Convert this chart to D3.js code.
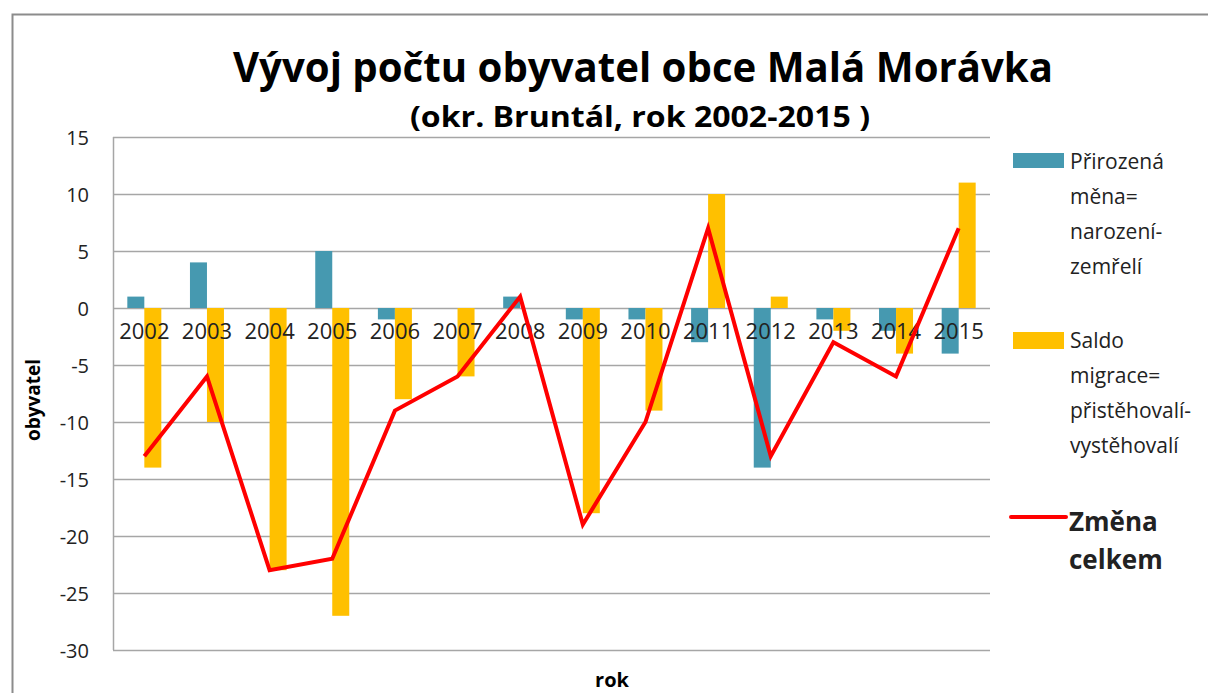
<!DOCTYPE html>
<html><head><meta charset="utf-8">
<script src="https://cdn.jsdelivr.net/npm/d3@7"></script>
<style>body{margin:0;background:#fff}svg{display:block}</style>
</head><body>
<script>
const years = ["2002","2003","2004","2005","2006","2007","2008","2009","2010","2011","2012","2013","2014","2015"];
const prirozena = [1,4,0,5,-1,0,1,-1,-1,-3,-14,-1,-2,-4];
const saldo = [-14,-10,-23,-27,-8,-6,0,-18,-9,10,1,-2,-4,11];
const zmena = [-13,-6,-23,-22,-9,-6,1,-19,-10,7,-13,-3,-6,7];
const yTicks = [15,10,5,0,-5,-10,-15,-20,-25,-30];

const W=1208,H=693;
const svg=d3.select("body").append("svg").attr("width",W).attr("height",H);
const font="'Open Sans', 'DejaVu Sans', sans-serif";
// outer border
svg.append("path").attr("d","M12.5,"+H+" V14.5 H"+W).attr("fill","none").attr("stroke","#8c8c8c").attr("stroke-width",2);

const L=113,R=990,T=137,B=650;
const x=d3.scaleBand().domain(years).range([L,R]);
const y=d3.scaleLinear().domain([-30,15]).range([B,T]);
const bw=17;

// gridlines
svg.append("g").selectAll("line").data(yTicks).join("line")
 .attr("x1",L).attr("x2",R).attr("y1",d=>Math.round(y(d))+0.5).attr("y2",d=>Math.round(y(d))+0.5)
 .attr("stroke","#a6a6a6").attr("stroke-width",1.5);
svg.append("line").attr("x1",L+0.5).attr("x2",L+0.5).attr("y1",T).attr("y2",B).attr("stroke","#a6a6a6").attr("stroke-width",1.5);

// y axis
const ya=svg.append("g").attr("transform",`translate(${L-16},0)`)
 .call(d3.axisLeft(y).tickValues(yTicks).tickSize(0).tickPadding(8).tickFormat(d=>String(d)));
ya.select(".domain").remove();
ya.selectAll("text").attr("font-family",font).attr("font-size",20).attr("fill","#222").attr("dy","0.35em");

// bars
const cx=d=>x(d)+x.bandwidth()/2;
svg.append("g").selectAll("rect").data(years).join("rect")
 .attr("x",d=>cx(d)-bw).attr("width",bw)
 .attr("y",(d,i)=>y(Math.max(0,prirozena[i]))).attr("height",(d,i)=>Math.abs(y(prirozena[i])-y(0)))
 .attr("fill","#4699b0");
svg.append("g").selectAll("rect").data(years).join("rect")
 .attr("x",d=>cx(d)).attr("width",bw)
 .attr("y",(d,i)=>y(Math.max(0,saldo[i]))).attr("height",(d,i)=>Math.abs(y(saldo[i])-y(0)))
 .attr("fill","#ffc000");

// x axis labels
const xa=svg.append("g").attr("transform",`translate(0,${y(0)})`)
 .call(d3.axisBottom(x).tickSize(0).tickPadding(11));
xa.select(".domain").remove();
xa.selectAll("text").attr("font-family",font).attr("font-size",22).attr("fill","#222").attr("dy","0.9em");

// line
svg.append("path").datum(zmena)
 .attr("d",d3.line().x((d,i)=>cx(years[i])).y(d=>y(d)))
 .attr("fill","none").attr("stroke","#ff0000").attr("stroke-width",4).attr("stroke-linejoin","miter");

// titles
svg.append("text").attr("x",643).attr("y",82).attr("text-anchor","middle")
 .attr("font-family",font).attr("font-weight","bold").attr("font-size",42).attr("textLength",820).attr("lengthAdjust","spacingAndGlyphs")
 .text("Vývoj počtu obyvatel obce Malá Morávka");
svg.append("text").attr("x",640).attr("y",127).attr("text-anchor","middle")
 .attr("font-family",font).attr("font-weight","bold").attr("font-size",28).attr("textLength",460).attr("lengthAdjust","spacingAndGlyphs")
 .text("(okr. Bruntál, rok  2002-2015 )");
svg.append("text").attr("transform","translate(40,400) rotate(-90)").attr("text-anchor","middle")
 .attr("font-family",font).attr("font-weight","bold").attr("font-size",19).text("obyvatel");
svg.append("text").attr("x",612).attr("y",687).attr("text-anchor","middle")
 .attr("font-family",font).attr("font-weight","bold").attr("font-size",20).text("rok");

// legend
const lg=svg.append("g").attr("font-family",font).attr("fill","#222");
lg.append("rect").attr("x",1013).attr("y",153).attr("width",51).attr("height",15).attr("fill","#4699b0");
["Přirozená","měna=","narození-","zemřelí"].forEach((t,i)=>lg.append("text").attr("x",1070).attr("y",169+i*35).attr("font-size",21).text(t));
lg.append("rect").attr("x",1013).attr("y",332).attr("width",51).attr("height",17).attr("fill","#ffc000");
["Saldo","migrace=","přistěhovalí-","vystěhovalí"].forEach((t,i)=>lg.append("text").attr("x",1070).attr("y",348+i*35).attr("font-size",21).text(t));
lg.append("line").attr("x1",1011).attr("x2",1066).attr("y1",517).attr("y2",517).attr("stroke","#ff0000").attr("stroke-width",4).attr("stroke-linecap","round");
["Změna","celkem"].forEach((t,i)=>lg.append("text").attr("x",1069).attr("y",531+i*38).attr("font-size",26).attr("font-weight","bold").text(t));
</script>
</body></html>
